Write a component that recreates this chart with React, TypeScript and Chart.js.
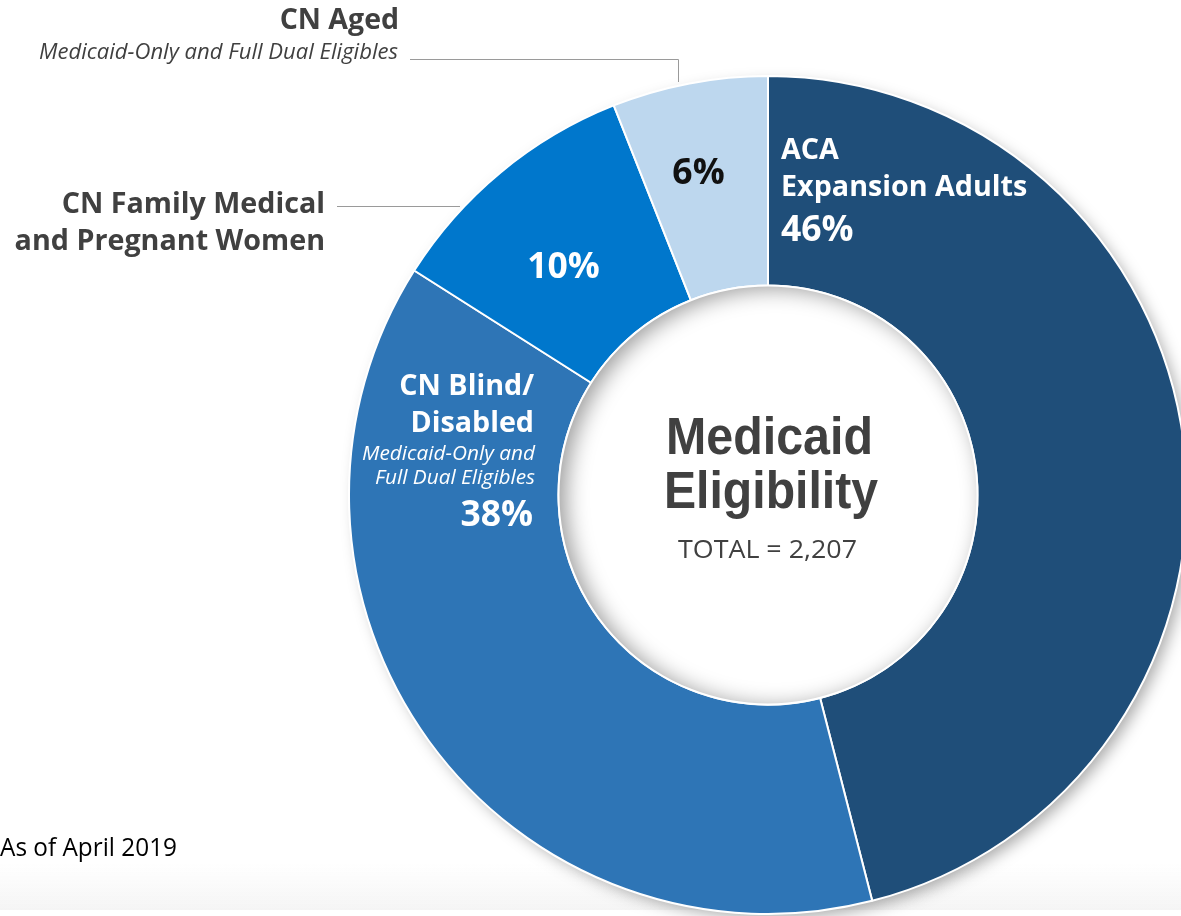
import React, { useEffect, useRef } from "react";
import { Chart, registerables } from "chart.js";

Chart.register(...registerables);

const categories = [
  "ACA Expansion Adults",
  "CN Blind/Disabled",
  "CN Family Medical and Pregnant Women",
  "CN Aged",
];
const shares = [46, 38, 10, 6];
const colors = ["#1F4E79", "#2E75B6", "#0077CC", "#BDD7EE"];
const totalLabel = "TOTAL = 2,207";
const footnote = "As of April 2019";

const FONT = "'Open Sans', 'Noto Sans', sans-serif";
const ARIAL = "'Liberation Sans', Arial, sans-serif";
const DARK = "#404040";

type T = {
  text: string;
  x: number;
  y: number;
  size: number;
  weight?: string;
  style?: string;
  color: string;
  align: CanvasTextAlign;
  font?: string;
  w?: number;
};

const texts: T[] = [
  { text: "CN Aged", x: 399, y: 29, size: 28.5, weight: "bold", color: DARK, align: "right" },
  { text: "Medicaid-Only and Full Dual Eligibles", x: 398, y: 59, size: 22, style: "italic", color: DARK, align: "right", w: 359 },
  { text: "CN Family Medical", x: 325, y: 213, size: 28.7, weight: "bold", color: DARK, align: "right" },
  { text: "and Pregnant Women", x: 325, y: 250, size: 28.7, weight: "bold", color: DARK, align: "right" },
  { text: shares[3] + "%", x: 698.5, y: 184, size: 35.5, weight: "bold", color: "#111111", align: "center" },
  { text: "ACA", x: 781, y: 159, size: 28.7, weight: "bold", color: "#FFFFFF", align: "left" },
  { text: "Expansion Adults", x: 781, y: 196, size: 28.7, weight: "bold", color: "#FFFFFF", align: "left" },
  { text: shares[0] + "%", x: 781, y: 241, size: 35.5, weight: "bold", color: "#FFFFFF", align: "left" },
  { text: shares[2] + "%", x: 563.5, y: 278, size: 35.5, weight: "bold", color: "#FFFFFF", align: "center" },
  { text: "CN Blind/", x: 534, y: 395, size: 28.7, weight: "bold", color: "#FFFFFF", align: "right" },
  { text: "Disabled", x: 534, y: 432, size: 28.7, weight: "bold", color: "#FFFFFF", align: "right" },
  { text: "Medicaid-Only and", x: 535, y: 460, size: 20.8, style: "italic", color: "#FFFFFF", align: "right", w: 173 },
  { text: "Full Dual Eligibles", x: 535, y: 484, size: 20.8, style: "italic", color: "#FFFFFF", align: "right" },
  { text: shares[1] + "%", x: 533, y: 526, size: 35.5, weight: "bold", color: "#FFFFFF", align: "right" },
  { text: "Medicaid", x: 769.5, y: 454, size: 51, weight: "bold", color: DARK, align: "center", font: ARIAL, w: 207 },
  { text: "Eligibility", x: 771, y: 508, size: 51, weight: "bold", color: DARK, align: "center", font: ARIAL, w: 214 },
  { text: totalLabel, x: 767.5, y: 558, size: 25, color: DARK, align: "center", w: 179 },
  { text: footnote, x: 0, y: 856, size: 25, color: "#000000", align: "left", w: 177 },
];

const decorPlugin = {
  id: "decor",
  beforeDraw(chart: any) {
    const ctx = chart.ctx;
    ctx.save();
    const g = ctx.createLinearGradient(0, 862, 0, 910);
    g.addColorStop(0, "rgba(245,245,245,0)");
    g.addColorStop(1, "rgba(242,242,242,0.8)");
    ctx.fillStyle = g;
    ctx.fillRect(0, 862, 1181, 48);
    ctx.restore();
  },
  beforeDatasetsDraw(chart: any) {
    const arc = chart.getDatasetMeta(0).data[0];
    if (!arc) return;
    const { x, y, outerRadius } = arc.getProps(["x", "y", "outerRadius"], true);
    const ctx = chart.ctx;
    ctx.save();
    ctx.shadowColor = "rgba(0,0,0,0.35)";
    ctx.shadowBlur = 16;
    ctx.shadowOffsetX = 6;
    ctx.shadowOffsetY = 6;
    ctx.fillStyle = "#ffffff";
    ctx.beginPath();
    ctx.arc(x, y, outerRadius - 2, 0, Math.PI * 2);
    ctx.fill();
    ctx.restore();
  },
  afterDatasetsDraw(chart: any) {
    const arc = chart.getDatasetMeta(0).data[0];
    if (!arc) return;
    const { x, y, innerRadius } = arc.getProps(["x", "y", "innerRadius"], true);
    const ctx = chart.ctx;
    ctx.save();
    ctx.beginPath();
    ctx.arc(x, y, innerRadius, 0, Math.PI * 2);
    ctx.clip();
    ctx.fillStyle = "#ffffff";
    ctx.fillRect(x - innerRadius - 2, y - innerRadius - 2, innerRadius * 2 + 4, innerRadius * 2 + 4);
    ctx.beginPath();
    ctx.arc(x, y, innerRadius + 300, 0, Math.PI * 2);
    ctx.arc(x, y, innerRadius, 0, Math.PI * 2, true);
    ctx.shadowColor = "rgba(0,0,0,0.4)";
    ctx.shadowBlur = 22;
    ctx.shadowOffsetX = 7;
    ctx.shadowOffsetY = 3;
    ctx.fillStyle = "#000";
    ctx.fill();
    ctx.restore();
    ctx.save();
    ctx.strokeStyle = "#ffffff";
    ctx.lineWidth = 2;
    ctx.beginPath();
    ctx.arc(x, y, innerRadius, 0, Math.PI * 2);
    ctx.stroke();
    ctx.restore();
  },
  afterDraw(chart: any) {
    const ctx = chart.ctx;
    ctx.save();
    ctx.strokeStyle = "#9a9a9a";
    ctx.lineWidth = 1;
    ctx.beginPath();
    ctx.moveTo(410, 59.5);
    ctx.lineTo(678.5, 59.5);
    ctx.lineTo(678.5, 82);
    ctx.moveTo(337, 206.5);
    ctx.lineTo(460, 206.5);
    ctx.stroke();
    ctx.restore();
    for (const t of texts) {
      ctx.save();
      ctx.textBaseline = "alphabetic";
      ctx.font = `${t.style || "normal"} ${t.weight || "normal"} ${t.size}px ${t.font || FONT}`;
      ctx.fillStyle = t.color;
      ctx.textAlign = t.align;
      if (t.w) {
        const m = ctx.measureText(t.text).width;
        const s = t.w / m;
        ctx.translate(t.x, t.y);
        ctx.scale(s, 1);
        ctx.fillText(t.text, 0, 0);
      } else {
        ctx.fillText(t.text, t.x, t.y);
      }
      ctx.restore();
    }
  },
};

export default function App() {
  const ref = useRef<HTMLCanvasElement>(null);
  useEffect(() => {
    const canvas = ref.current!;
    const chart = new Chart(canvas, {
      type: "doughnut",
      data: {
        labels: categories,
        datasets: [
          {
            data: shares,
            backgroundColor: colors,
            borderColor: "#ffffff",
            borderWidth: 2,
          },
        ],
      },
      options: {
        responsive: false,
        animation: false,
        devicePixelRatio: 1,
        cutout: "50%",
        rotation: 0,
        layout: { padding: { left: 348, right: 12, top: 75, bottom: 1 } },
        plugins: {
          legend: { display: false },
          tooltip: { enabled: false },
        },
      },
      plugins: [decorPlugin],
    });
    return () => chart.destroy();
  }, []);
  return (
    <div
      style={{
        position: "fixed",
        left: 0,
        top: 0,
        width: 1181,
        height: 916,
        overflow: "hidden",
        background: "#ffffff",
      }}
    >
      <canvas ref={ref} width={1200} height={916} style={{ display: "block" }} />
    </div>
  );
}
